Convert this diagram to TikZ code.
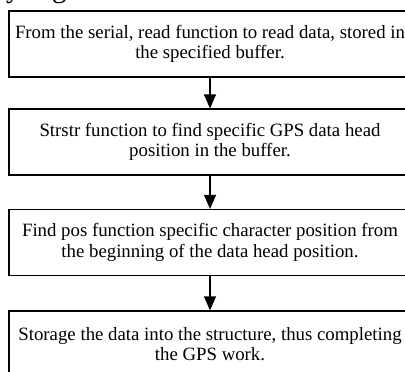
\documentclass[tikz,border=0pt]{standalone}
\usepackage{fontspec}
\setmainfont{Liberation Serif}
\usetikzlibrary{arrows.meta}
\begin{document}
\begin{tikzpicture}[x=1pt,y=-1pt,
  stepbox/.style={draw,line width=1.2pt,minimum width=402pt,minimum height=66pt,
    align=center,inner sep=0pt,font=\fontsize{18.8pt}{20.5pt}\selectfont},
  flow/.style={line width=1.2pt,-{Triangle[width=12pt,length=14pt]}}]
\useasboundingbox (0,0) rectangle (405,372);
\clip (0,0) rectangle (405,372);
\node[anchor=base west,inner sep=0pt,font=\fontsize{29pt}{32pt}\selectfont] (cap) at (6,-2) {y Figure 3.};
\node[stepbox] (b1) at (210,44) {From the serial, read function to read data, stored in\\the specified buffer.};
\node[stepbox] (b2) at (210,142) {Strstr function to find specific GPS data head\\position in the buffer.};
\node[stepbox] (b3) at (210,242.5) {Find pos function specific character position from\\the beginning of the data head position.};
\node[stepbox] (b4) at (210,344) {Storage the data into the structure, thus completing\\the GPS work.};
\draw[flow] (b1) -- (b2);
\draw[flow] (b2) -- (b3);
\draw[flow] (b3) -- (b4);
\end{tikzpicture}
\end{document}
